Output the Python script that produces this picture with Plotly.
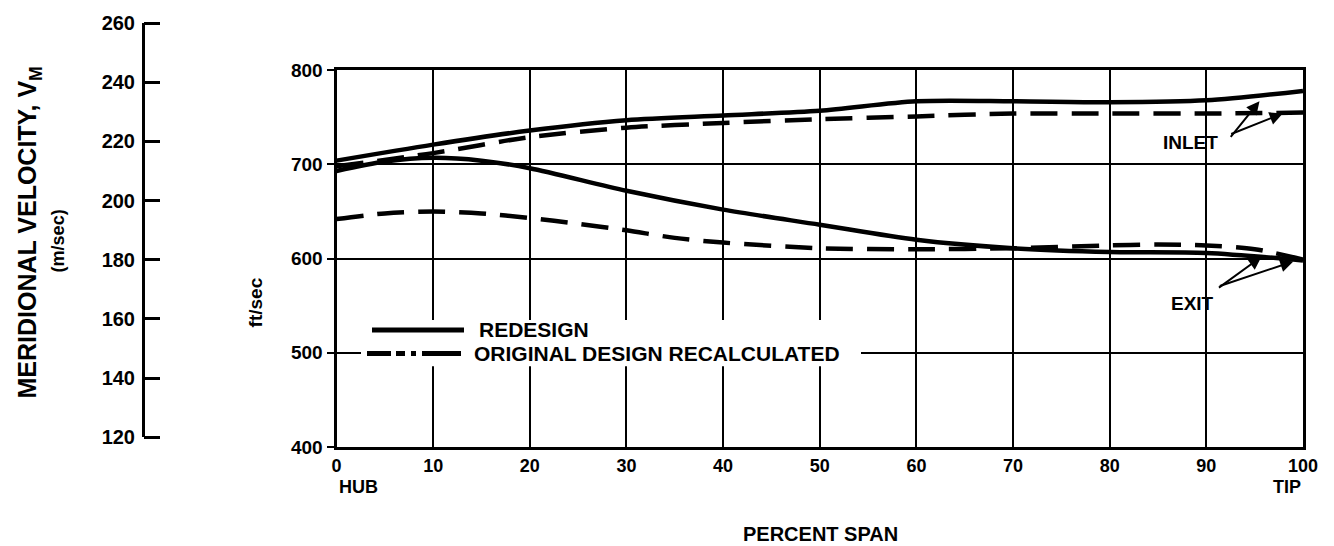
import plotly.graph_objects as go

# ---- data: meridional velocity (ft/sec) versus percent span ----
span_redesign_inlet = [0, 10, 20, 30, 40, 50, 60, 70, 80, 90, 100]
vel_redesign_inlet = [704, 721, 736, 747, 752, 757, 767, 767, 766, 768, 778]

span_redesign_exit = [0, 5, 10, 15, 20, 30, 40, 50, 60, 70, 80, 90, 100]
vel_redesign_exit = [693, 703, 707, 704, 696, 672, 652, 636, 620, 611, 607, 606, 598]

span_original_inlet = [0, 10, 20, 30, 40, 50, 60, 70, 80, 90, 100]
vel_original_inlet = [698, 712, 729, 739, 744, 748, 751, 754, 754, 754, 755]

span_original_exit = [0, 5, 10, 15, 20, 25, 30, 35, 40, 50, 60, 70, 80, 85, 90, 95, 100]
vel_original_exit = [642, 648, 650, 648, 643, 637, 630, 622, 617, 611, 610, 611, 614, 615, 614, 610, 599]

span_ticks = [0, 10, 20, 30, 40, 50, 60, 70, 80, 90, 100]
fps_ticks = [400, 500, 600, 700, 800]
mps_ticks = [120, 140, 160, 180, 200, 220, 240, 260]

legend_names = ["REDESIGN", "ORIGINAL DESIGN RECALCULATED"]

FONT = "Liberation Sans, Arial, Helvetica, sans-serif"
INK = "black"
CURVE_W = 4.5
LONG_DASH = "27px,14px"
KEY_DASH = "24px,5px,9px,6px,5px,6px,40px"

fig = go.Figure()


def curve(x, y, dash):
    fig.add_trace(go.Scatter(
        x=x, y=y, mode="lines", showlegend=False, hoverinfo="skip",
        line=dict(color=INK, width=CURVE_W, dash=dash, shape="spline", smoothing=0.8),
    ))


curve(span_redesign_inlet, vel_redesign_inlet, "solid")
curve(span_redesign_exit, vel_redesign_exit, "solid")
curve(span_original_inlet, vel_original_inlet, LONG_DASH)
curve(span_original_exit, vel_original_exit, LONG_DASH)

# carriers for the metric scale on the far left (labels axis + tick axis)
for ya in ("y2", "y3"):
    fig.add_trace(go.Scatter(x=[None], y=[None], xaxis="x2", yaxis=ya,
                             showlegend=False, hoverinfo="skip"))

W, H = 1334, 546
L, R, T, B = 143, 31, 16, 99
pw, ph = W - L - R, H - T - B


def px_x(p):
    return (p - L) / pw


def px_y(p):
    return (H - B - p) / ph


fig.update_layout(
    width=W, height=H,
    margin=dict(l=L, r=R, t=T, b=B, pad=0),
    paper_bgcolor="white", plot_bgcolor="white",
    showlegend=False,
    font=dict(family=FONT, color=INK, size=18, weight="bold"),
    xaxis=dict(
        domain=[px_x(336.5), 1], range=[0, 100], tickvals=span_ticks,
        showgrid=True, gridcolor=INK, gridwidth=2,
        showline=True, linecolor=INK, linewidth=3, mirror=True,
        ticks="", zeroline=False, tickfont=dict(size=18),
    ),
    yaxis=dict(
        domain=[0, px_y(64)], range=[400, 800], tickvals=fps_ticks,
        showgrid=True, gridcolor=INK, gridwidth=2,
        showline=True, linecolor=INK, linewidth=3, mirror=True,
        ticks="outside", ticklen=7, tickwidth=2, tickcolor=INK,
        zeroline=False, tickfont=dict(size=19),
    ),
    xaxis2=dict(domain=[0, 0.005], range=[0, 1], visible=False),
    yaxis2=dict(
        domain=[px_y(437), 1], range=[120, 260], tickvals=mps_ticks,
        anchor="free", position=0, side="left",
        showgrid=False, zeroline=False,
        showline=True, linecolor=INK, linewidth=3,
        ticks="", ticklabelstandoff=3,
        tickfont=dict(size=20, color=INK),
    ),
    yaxis3=dict(
        overlaying="y2", range=[120, 260], tickvals=mps_ticks,
        anchor="free", position=0, side="right",
        showgrid=False, zeroline=False, showline=False,
        ticks="outside", ticklen=16, tickwidth=3, tickcolor=INK,
        showticklabels=False,
    ),
)

# key box: white panel over the grid, two line samples and their labels
key_shapes = [
    dict(type="rect", xref="paper", yref="paper", layer="above",
         x0=px_x(361), x1=px_x(861), y0=px_y(365), y1=px_y(318),
         fillcolor="white", line=dict(width=0)),
    dict(type="line", xref="paper", yref="paper", layer="above",
         x0=px_x(372), x1=px_x(464), y0=px_y(328), y1=px_y(328),
         line=dict(color=INK, width=5)),
    dict(type="line", xref="paper", yref="paper", layer="above",
         x0=px_x(367), x1=px_x(461), y0=px_y(352), y1=px_y(352),
         line=dict(color=INK, width=5, dash=KEY_DASH)),
]
fig.update_layout(shapes=key_shapes)

ann = []
ann.append(dict(text=legend_names[0], xref="paper", yref="paper",
                x=px_x(477), y=px_y(328), xanchor="left", yanchor="middle",
                showarrow=False, font=dict(size=21)))
ann.append(dict(text=legend_names[1], xref="paper", yref="paper",
                x=px_x(472), y=px_y(352), xanchor="left", yanchor="middle",
                showarrow=False, font=dict(size=21)))

# axis titles
ann.append(dict(text="MERIDIONAL VELOCITY, V<sub>M</sub>", xref="paper", yref="paper",
                x=px_x(29), y=px_y(229), xanchor="center", yanchor="middle",
                textangle=-90, showarrow=False, font=dict(size=25)))
ann.append(dict(text="(m/sec)", xref="paper", yref="paper",
                x=px_x(58), y=px_y(238), xanchor="center", yanchor="middle",
                textangle=-90, showarrow=False, font=dict(size=18)))
ann.append(dict(text="ft/sec", xref="paper", yref="paper",
                x=px_x(255), y=px_y(300), xanchor="center", yanchor="middle",
                textangle=-90, showarrow=False, font=dict(size=19)))
ann.append(dict(text="PERCENT SPAN", xref="paper", yref="paper",
                x=px_x(820), y=px_y(535), xanchor="center", yanchor="middle",
                showarrow=False, font=dict(size=20)))
ann.append(dict(text="HUB", xref="x", yref="paper", x=0, y=px_y(488),
                xanchor="left", yanchor="middle", showarrow=False, font=dict(size=18)))
ann.append(dict(text="TIP", xref="x", yref="paper", x=100, y=px_y(488),
                xanchor="right", yanchor="middle", showarrow=False, font=dict(size=18)))

# station labels with pointers
ann.append(dict(text="INLET", xref="x", yref="y", x=88.4, y=723,
                xanchor="center", yanchor="middle", showarrow=False, font=dict(size=19)))
ann.append(dict(text="EXIT", xref="x", yref="y", x=88.6, y=552,
                xanchor="center", yanchor="middle", showarrow=False, font=dict(size=19)))
arrow_style = dict(text="", xref="x", yref="y", showarrow=True, arrowhead=2,
                   arrowsize=1.3, arrowwidth=2, arrowcolor=INK, standoff=0)
ann.append(dict(arrow_style, x=95.5, y=767, ax=-30, ay=37))
ann.append(dict(arrow_style, x=97.9, y=754, ax=-53, ay=21))
ann.append(dict(arrow_style, x=95.7, y=602, ax=-44, ay=32))
ann.append(dict(arrow_style, x=99.0, y=597, ax=-75, ay=25))

fig.update_layout(annotations=ann)

fig.write_html("out.html")
